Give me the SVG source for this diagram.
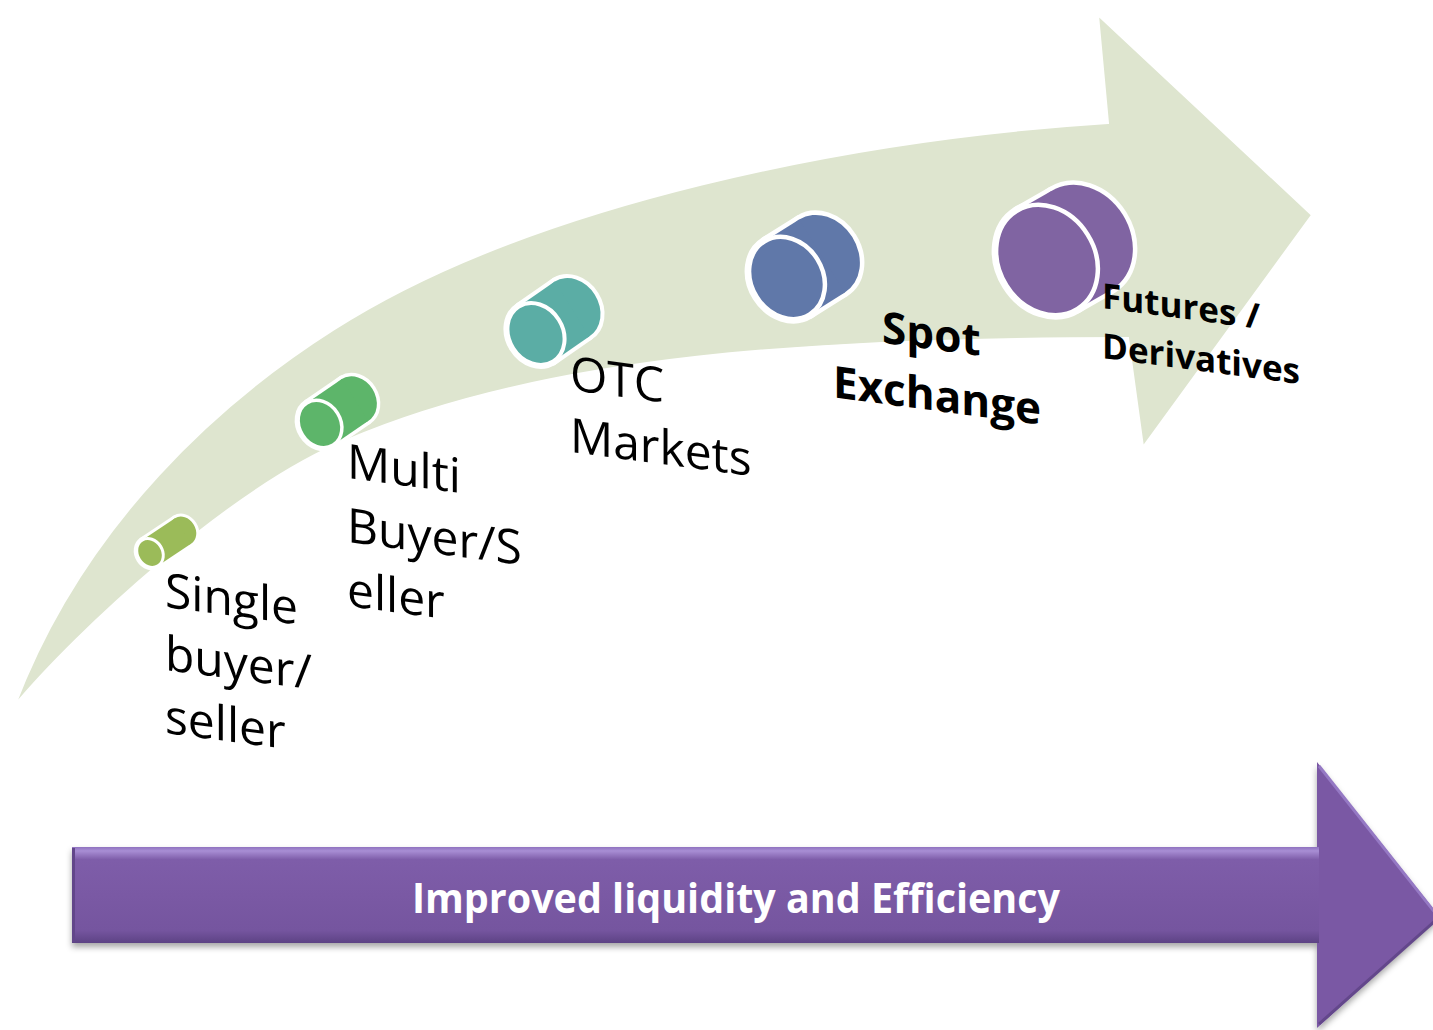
<svg xmlns="http://www.w3.org/2000/svg" width="1433" height="1030" viewBox="0 0 1433 1030">
  <style>
    .label { font-family: "Open Sans", "Noto Sans", "Liberation Sans", sans-serif; fill: #000; }
    .reg { font-size: 48px; font-weight: 400; }
    .bold { font-weight: 700; }
    .halo { fill: #fff; stroke: #fff; stroke-linejoin: round; }
    .face { stroke: #fff; }
  </style>
  <defs>
    <linearGradient id="shaftShade" gradientUnits="userSpaceOnUse" x1="0" y1="847" x2="0" y2="944">
      <stop offset="0" stop-color="#8F72BF"/>
      <stop offset="0.04" stop-color="#A88ED4"/>
      <stop offset="0.13" stop-color="#7E5DA9"/>
      <stop offset="0.5" stop-color="#7A59A4"/>
      <stop offset="0.86" stop-color="#75559F"/>
      <stop offset="0.93" stop-color="#684B91"/>
      <stop offset="1" stop-color="#5B4182"/>
    </linearGradient>
    <filter id="dropShadow" x="-5%" y="-10%" width="110%" height="130%">
      <feDropShadow dx="0" dy="4" stdDeviation="3" flood-color="#000" flood-opacity="0.35"/>
    </filter>
  </defs>

  <!-- curved progression arrow -->
  <g id="curved-arrow">
    <path d="M 15,705 C 85,521 223,400 333,330 C 533,202 858,139 1108,123 L 1098,15 L 1312,215 L 1143,447 L 1128,338 C 820,338 547,354 347,440 C 230,488 75,633 15,705 Z"
          fill="#DEE5CF" stroke="#fff" stroke-width="2" stroke-linejoin="miter"/>
  </g>

  <!-- stage 1 -->
  <g id="node-single">
    <g transform="translate(150,553)">
      <g class="halo" stroke-width="6">
        <ellipse cx="33" cy="-22" rx="12.5" ry="15.1" transform="rotate(-32 33 -22)"/>
        <polygon points="8,12.8 41,-9.2 25,-34.8 -8,-12.8"/>
        <ellipse cx="0" cy="0" rx="12.5" ry="15.1" transform="rotate(-32)"/>
      </g>
      <g fill="#9BBB59">
        <ellipse cx="33" cy="-22" rx="12.5" ry="15.1" transform="rotate(-32 33 -22)"/>
        <polygon points="8,12.8 41,-9.2 25,-34.8 -8,-12.8"/>
        <ellipse class="face" stroke-width="3" cx="0" cy="0" rx="12.5" ry="15.1" transform="rotate(-32)"/>
      </g>
    </g>
    <text class="label reg" transform="translate(165,607) skewY(7.5)">
      <tspan x="0" y="0">Single</tspan>
      <tspan x="0" y="63">buyer/</tspan>
      <tspan x="0" y="126">seller</tspan>
    </text>
  </g>

  <!-- stage 2 -->
  <g id="node-multi">
    <g transform="translate(320,424)">
      <g class="halo" stroke-width="7">
        <ellipse cx="35" cy="-24" rx="20.6" ry="24.8" transform="rotate(-32 35 -24)"/>
        <polygon points="13.1,21 48.1,-3 21.9,-45 -13.1,-21"/>
        <ellipse cx="0" cy="0" rx="20.6" ry="24.8" transform="rotate(-32)"/>
      </g>
      <g fill="#5DB56A">
        <ellipse cx="35" cy="-24" rx="20.6" ry="24.8" transform="rotate(-32 35 -24)"/>
        <polygon points="13.1,21 48.1,-3 21.9,-45 -13.1,-21"/>
        <ellipse class="face" stroke-width="3.5" cx="0" cy="0" rx="20.6" ry="24.8" transform="rotate(-32)"/>
      </g>
    </g>
    <text class="label reg" transform="translate(347,478) skewY(7.5)">
      <tspan x="0" y="0">Multi</tspan>
      <tspan x="0" y="64">Buyer/S</tspan>
      <tspan x="0" y="128">eller</tspan>
    </text>
  </g>

  <!-- stage 3 -->
  <g id="node-otc">
    <g transform="translate(536,334)">
      <g class="halo" stroke-width="8">
        <ellipse cx="36" cy="-25" rx="26.9" ry="32.4" transform="rotate(-32 36 -25)"/>
        <polygon points="17.2,27.5 53.2,2.5 18.8,-52.5 -17.2,-27.5"/>
        <ellipse cx="0" cy="0" rx="26.9" ry="32.4" transform="rotate(-32)"/>
      </g>
      <g fill="#5BADA5">
        <ellipse cx="36" cy="-25" rx="26.9" ry="32.4" transform="rotate(-32 36 -25)"/>
        <polygon points="17.2,27.5 53.2,2.5 18.8,-52.5 -17.2,-27.5"/>
        <ellipse class="face" stroke-width="4" cx="0" cy="0" rx="26.9" ry="32.4" transform="rotate(-32)"/>
      </g>
    </g>
    <text class="label reg" transform="translate(570,390) skewY(7.5)">
      <tspan x="0" y="0">OTC</tspan>
      <tspan x="0" y="62">Markets</tspan>
    </text>
  </g>

  <!-- stage 4 -->
  <g id="node-spot">
    <g transform="translate(787,278)">
      <g class="halo" stroke-width="9">
        <ellipse cx="35" cy="-22" rx="35.7" ry="43" transform="rotate(-32 35 -22)"/>
        <polygon points="22.8,36.5 57.8,14.5 12.2,-58.5 -22.8,-36.5"/>
        <ellipse cx="0" cy="0" rx="35.7" ry="43" transform="rotate(-32)"/>
      </g>
      <g fill="#6078A9">
        <ellipse cx="35" cy="-22" rx="35.7" ry="43" transform="rotate(-32 35 -22)"/>
        <polygon points="22.8,36.5 57.8,14.5 12.2,-58.5 -22.8,-36.5"/>
        <ellipse class="face" stroke-width="4.5" cx="0" cy="0" rx="35.7" ry="43" transform="rotate(-32)"/>
      </g>
    </g>
    <text class="label bold" font-size="44" text-anchor="middle" transform="translate(937,350) skewY(7.5)">
      <tspan x="0" y="0">Spot</tspan>
      <tspan x="0" y="61">Exchange</tspan>
    </text>
  </g>

  <!-- stage 5 -->
  <g id="node-futures">
    <g transform="translate(1047,260)">
      <g class="halo" stroke-width="9">
        <ellipse cx="35" cy="-20" rx="47.9" ry="57.7" transform="rotate(-32 35 -20)"/>
        <polygon points="30.6,48.9 65.6,28.9 4.4,-68.9 -30.6,-48.9"/>
        <ellipse cx="0" cy="0" rx="47.9" ry="57.7" transform="rotate(-32)"/>
      </g>
      <g fill="#8064A2">
        <ellipse cx="35" cy="-20" rx="47.9" ry="57.7" transform="rotate(-32 35 -20)"/>
        <polygon points="30.6,48.9 65.6,28.9 4.4,-68.9 -30.6,-48.9"/>
        <ellipse class="face" stroke-width="4.5" cx="0" cy="0" rx="47.9" ry="57.7" transform="rotate(-32)"/>
      </g>
    </g>
    <text class="label bold" font-size="35" transform="translate(1102,308) skewY(7.5)">
      <tspan x="0" y="0">Futures /</tspan>
      <tspan x="0" y="50">Derivatives</tspan>
    </text>
  </g>

  <!-- horizontal summary arrow -->
  <g id="liquidity-arrow">
    <g filter="url(#dropShadow)">
      <polygon points="72,847 1317,847 1317,762 1440,917 1317,1028 1317,943 72,943" fill="#7A59A4"/>
    </g>
    <rect x="72" y="847" width="1247" height="96" fill="url(#shaftShade)"/>
    <line x1="1319" y1="766" x2="1436" y2="914" stroke="#9579C4" stroke-width="3"/>
    <line x1="1319" y1="1024" x2="1436" y2="920" stroke="#63478B" stroke-width="3"/>
    <line x1="73.5" y1="848" x2="73.5" y2="942" stroke="#62468A" stroke-width="3"/>
    <text x="736" y="913" text-anchor="middle" textLength="648" lengthAdjust="spacingAndGlyphs"
          font-family="Open Sans, Noto Sans, Liberation Sans, sans-serif" font-weight="700" font-size="41" fill="#fff">Improved liquidity and Efficiency</text>
  </g>
</svg>
